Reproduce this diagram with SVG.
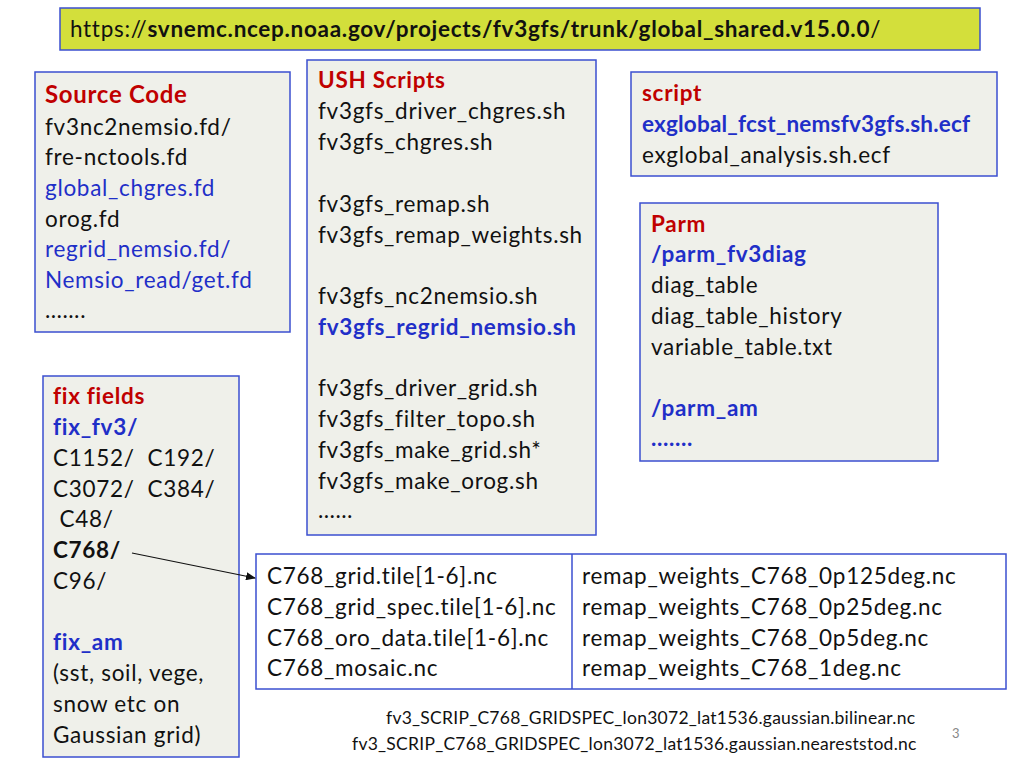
<svg xmlns="http://www.w3.org/2000/svg" width="1024" height="768" viewBox="0 0 1024 768">
<style>
text{font-family:Lato,"Open Sans","Liberation Sans",sans-serif;font-size:22.5px;letter-spacing:0.7px;fill:#111}
.box{fill:#eff0ea;stroke:#3b4fd0;stroke-width:1.5}
.r{fill:#c00000;font-weight:bold}
.b{fill:#1f2fc8}
.bb{fill:#1f2fc8;font-weight:bold}
.k{font-weight:bold}
.s{font-size:17.5px;letter-spacing:0.25px}
</style>
<defs><marker id="ah" markerWidth="10" markerHeight="8" refX="9" refY="4" orient="auto" markerUnits="userSpaceOnUse"><path d="M0,0 L10,4 L0,8 z" fill="#111"/></marker></defs>
<g id="url"><rect x="60" y="8" width="920" height="42" fill="#d3df3b" stroke="#3b4fd0" stroke-width="1.5"/>
<text x="70" y="37">https://<tspan class="k">svnemc.ncep.noaa.gov/projects/fv3gfs/trunk/global_shared.v15.0.0</tspan>/</text></g>
<g id="source"><rect class="box" x="35" y="72" width="255" height="260"/>
<text x="45" y="103" class="r" style="font-size:24px">Source Code</text>
<text x="45" y="135">fv3nc2nemsio.fd/</text><text x="45" y="165">fre-nctools.fd</text>
<text x="45" y="196" class="b">global_chgres.fd</text><text x="45" y="227">orog.fd</text>
<text x="45" y="257" class="b">regrid_nemsio.fd/</text><text x="45" y="288" class="b">Nemsio_read/get.fd</text>
<text x="45" y="318">…….</text></g>
<g id="ush"><rect class="box" x="307" y="60" width="289" height="475"/>
<text x="318" y="88" class="r">USH Scripts</text>
<text x="318" y="119">fv3gfs_driver_chgres.sh</text><text x="318" y="150">fv3gfs_chgres.sh</text>
<text x="318" y="212">fv3gfs_remap.sh</text><text x="318" y="243">fv3gfs_remap_weights.sh</text>
<text x="318" y="304">fv3gfs_nc2nemsio.sh</text><text x="318" y="335" class="bb">fv3gfs_regrid_nemsio.sh</text>
<text x="318" y="396">fv3gfs_driver_grid.sh</text><text x="318" y="427">fv3gfs_filter_topo.sh</text>
<text x="318" y="458">fv3gfs_make_grid.sh*</text><text x="318" y="489">fv3gfs_make_orog.sh</text>
<text x="318" y="518">……</text></g>
<g id="script"><rect class="box" x="631" y="72" width="366" height="104"/>
<text x="642" y="101" class="r">script</text>
<text x="642" y="132" class="bb" style="letter-spacing:0.2px">exglobal_fcst_nemsfv3gfs.sh.ecf</text>
<text x="642" y="163">exglobal_analysis.sh.ecf</text></g>
<g id="parm"><rect class="box" x="640" y="203" width="298" height="258"/>
<text x="651" y="232" class="r">Parm</text><text x="651" y="262" class="bb">/parm_fv3diag</text>
<text x="651" y="293">diag_table</text><text x="651" y="324">diag_table_history</text>
<text x="651" y="355">variable_table.txt</text><text x="651" y="416" class="bb">/parm_am</text>
<text x="651" y="446" class="bb">…….</text></g>
<g id="fix"><rect class="box" x="43" y="376" width="196" height="381"/>
<text x="53" y="404" class="r">fix fields</text><text x="53" y="435" class="bb">fix_fv3/</text>
<text x="53" y="466" xml:space="preserve">C1152/  C192/</text><text x="53" y="497" xml:space="preserve">C3072/  C384/</text>
<text x="53" y="527" xml:space="preserve"> C48/</text><text x="53" y="558" class="k">C768/</text>
<text x="53" y="589">C96/</text><text x="53" y="650" class="bb">fix_am</text>
<text x="53" y="681">(sst, soil, vege,</text><text x="53" y="712">snow etc on</text>
<text x="53" y="743">Gaussian grid)</text></g>
<g id="table"><rect x="256" y="554" width="750" height="135" fill="#fff" stroke="#3b4fd0" stroke-width="1.5"/>
<line x1="572" y1="554" x2="572" y2="689" stroke="#3b4fd0" stroke-width="1.5"/>
<text x="267" y="584">C768_grid.tile[1-6].nc</text><text x="267" y="615">C768_grid_spec.tile[1-6].nc</text>
<text x="267" y="646">C768_oro_data.tile[1-6].nc</text><text x="267" y="676">C768_mosaic.nc</text>
<text x="582" y="584">remap_weights_C768_0p125deg.nc</text><text x="582" y="615">remap_weights_C768_0p25deg.nc</text>
<text x="582" y="646">remap_weights_C768_0p5deg.nc</text><text x="582" y="676">remap_weights_C768_1deg.nc</text></g>
<g id="connectors"><line x1="132" y1="553" x2="255" y2="578" stroke="#111" stroke-width="1.2" marker-end="url(#ah)"/></g>
<g id="notes">
<text x="386" y="724" class="s">fv3_SCRIP_C768_GRIDSPEC_lon3072_lat1536.gaussian.bilinear.nc</text>
<text x="352" y="750" class="s">fv3_SCRIP_C768_GRIDSPEC_lon3072_lat1536.gaussian.neareststod.nc</text>
<text x="952" y="738" style="font-size:13px;fill:#888;letter-spacing:0">3</text></g>
</svg>
